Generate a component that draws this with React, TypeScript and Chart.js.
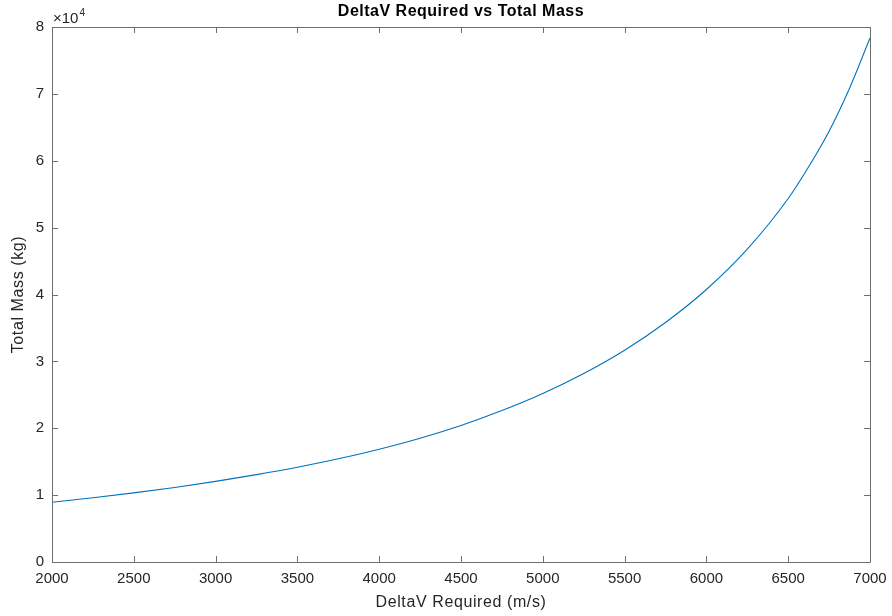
import React, { useEffect, useRef } from "react";
import { Chart, registerables } from "chart.js";

Chart.register(...registerables);

const deltaV = [2000, 2250, 2500, 2750, 3000, 3250, 3500, 3750, 4000, 4250, 4500, 4750, 5000, 5250, 5500, 5750, 6000, 6250, 6500, 6625, 6750, 6875, 7000];
const totalMass = [8930, 9600, 10330, 11150, 12050, 13060, 14170, 15430, 16870, 18510, 20420, 22640, 25190, 28180, 31670, 35820, 40750, 46780, 54350, 59100, 64420, 70850, 78360];
const xTicks = [2000, 2500, 3000, 3500, 4000, 4500, 5000, 5500, 6000, 6500, 7000];
const yTicks = [0, 10000, 20000, 30000, 40000, 50000, 60000, 70000, 80000];

const titleText = "DeltaV Required vs Total Mass";
const xLabel = "DeltaV Required (m/s)";
const yLabel = "Total Mass (kg)";

const FONT = '"Liberation Sans", Arial, Helvetica, sans-serif';
const TEXT = "#262626";
const AXIS = "#6e6e6e";

const decorPlugin = {
  id: "decor",
  afterDraw(chart: any) {
    const { ctx, chartArea } = chart;
    const { left, right, top, bottom } = chartArea;
    const xs = chart.scales.x;
    const ys = chart.scales.y;
    ctx.save();
    ctx.strokeStyle = AXIS;
    ctx.lineWidth = 1;
    ctx.beginPath();
    ctx.rect(Math.round(left) + 0.5, Math.round(top) + 0.5, Math.round(right - left), Math.round(bottom - top));
    ctx.stroke();
    const tl = 6;
    ctx.beginPath();
    xTicks.forEach((v) => {
      const px = Math.round(xs.getPixelForValue(v)) + 0.5;
      ctx.moveTo(px, bottom);
      ctx.lineTo(px, bottom - tl);
      ctx.moveTo(px, top);
      ctx.lineTo(px, top + tl);
    });
    yTicks.forEach((v) => {
      const py = Math.round(ys.getPixelForValue(v)) + 0.5;
      ctx.moveTo(left, py);
      ctx.lineTo(left + tl, py);
      ctx.moveTo(right, py);
      ctx.lineTo(right - tl, py);
    });
    ctx.stroke();
    const cx = (left + right) / 2;
    ctx.fillStyle = "#000";
    ctx.textAlign = "center";
    ctx.textBaseline = "middle";
    ctx.font = "bold 16px " + FONT;
    (ctx as any).letterSpacing = "0.5px";
    ctx.fillText(titleText, cx, 12);
    ctx.fillStyle = TEXT;
    ctx.font = "16px " + FONT;
    (ctx as any).letterSpacing = "0.6px";
    ctx.fillText(xLabel, cx, 603);
    ctx.save();
    ctx.translate(19, (top + bottom) / 2);
    ctx.rotate(-Math.PI / 2);
    ctx.fillText(yLabel, 0, 0);
    ctx.restore();
    (ctx as any).letterSpacing = "0px";
    ctx.textAlign = "left";
    ctx.textBaseline = "alphabetic";
    ctx.font = "15px " + FONT;
    ctx.fillText("\u00d710", left + 1, 23);
    const w = ctx.measureText("\u00d710").width;
    ctx.font = "10px " + FONT;
    ctx.fillText("4", left + 1 + w + 1, 16);
    ctx.restore();
  },
};

export default function App() {
  const ref = useRef<HTMLCanvasElement | null>(null);
  useEffect(() => {
    if (!ref.current) return;
    const chart = new Chart(ref.current, {
      type: "line",
      data: {
        datasets: [
          {
            data: deltaV.map((x, i) => ({ x, y: totalMass[i] })),
            borderColor: "#0072BD",
            borderWidth: 1.1,
            pointRadius: 0,
            fill: false,
            cubicInterpolationMode: "monotone",
          },
        ],
      },
      options: {
        responsive: false,
        animation: false,
        layout: { padding: { left: 0, right: 22, top: 27, bottom: 0 } },
        plugins: { legend: { display: false }, tooltip: { enabled: false }, title: { display: false } },
        scales: {
          x: {
            type: "linear",
            min: 2000,
            max: 7000,
            grid: { display: false, drawTicks: false },
            border: { display: false },
            afterFit: (s: any) => { s.height = 54; s.paddingLeft = 0; s.paddingRight = 0; },
            afterBuildTicks: (s: any) => { s.ticks = xTicks.map((v) => ({ value: v })); },
            ticks: {
              padding: 8,
              color: TEXT,
              font: { family: FONT, size: 15 },
              maxRotation: 0,
              autoSkip: false,
              callback: (v: any) => String(v),
            },
          },
          y: {
            type: "linear",
            min: 0,
            max: 80000,
            grid: { display: false, drawTicks: false },
            border: { display: false },
            afterFit: (s: any) => { s.width = 52; s.paddingTop = 0; s.paddingBottom = 0; },
            afterBuildTicks: (s: any) => { s.ticks = yTicks.map((v) => ({ value: v })); },
            ticks: {
              padding: 8,
              color: TEXT,
              font: { family: FONT, size: 15 },
              autoSkip: false,
              callback: (v: any) => String(Number(v) / 10000),
            },
          },
        },
      },
      plugins: [decorPlugin],
    });
    return () => chart.destroy();
  }, []);
  return (
    <div style={{ position: "fixed", left: 0, top: 0, width: 892, height: 616, background: "#fff" }}>
      <canvas ref={ref} width={892} height={616} style={{ width: 892, height: 616, display: "block" }} />
    </div>
  );
}
